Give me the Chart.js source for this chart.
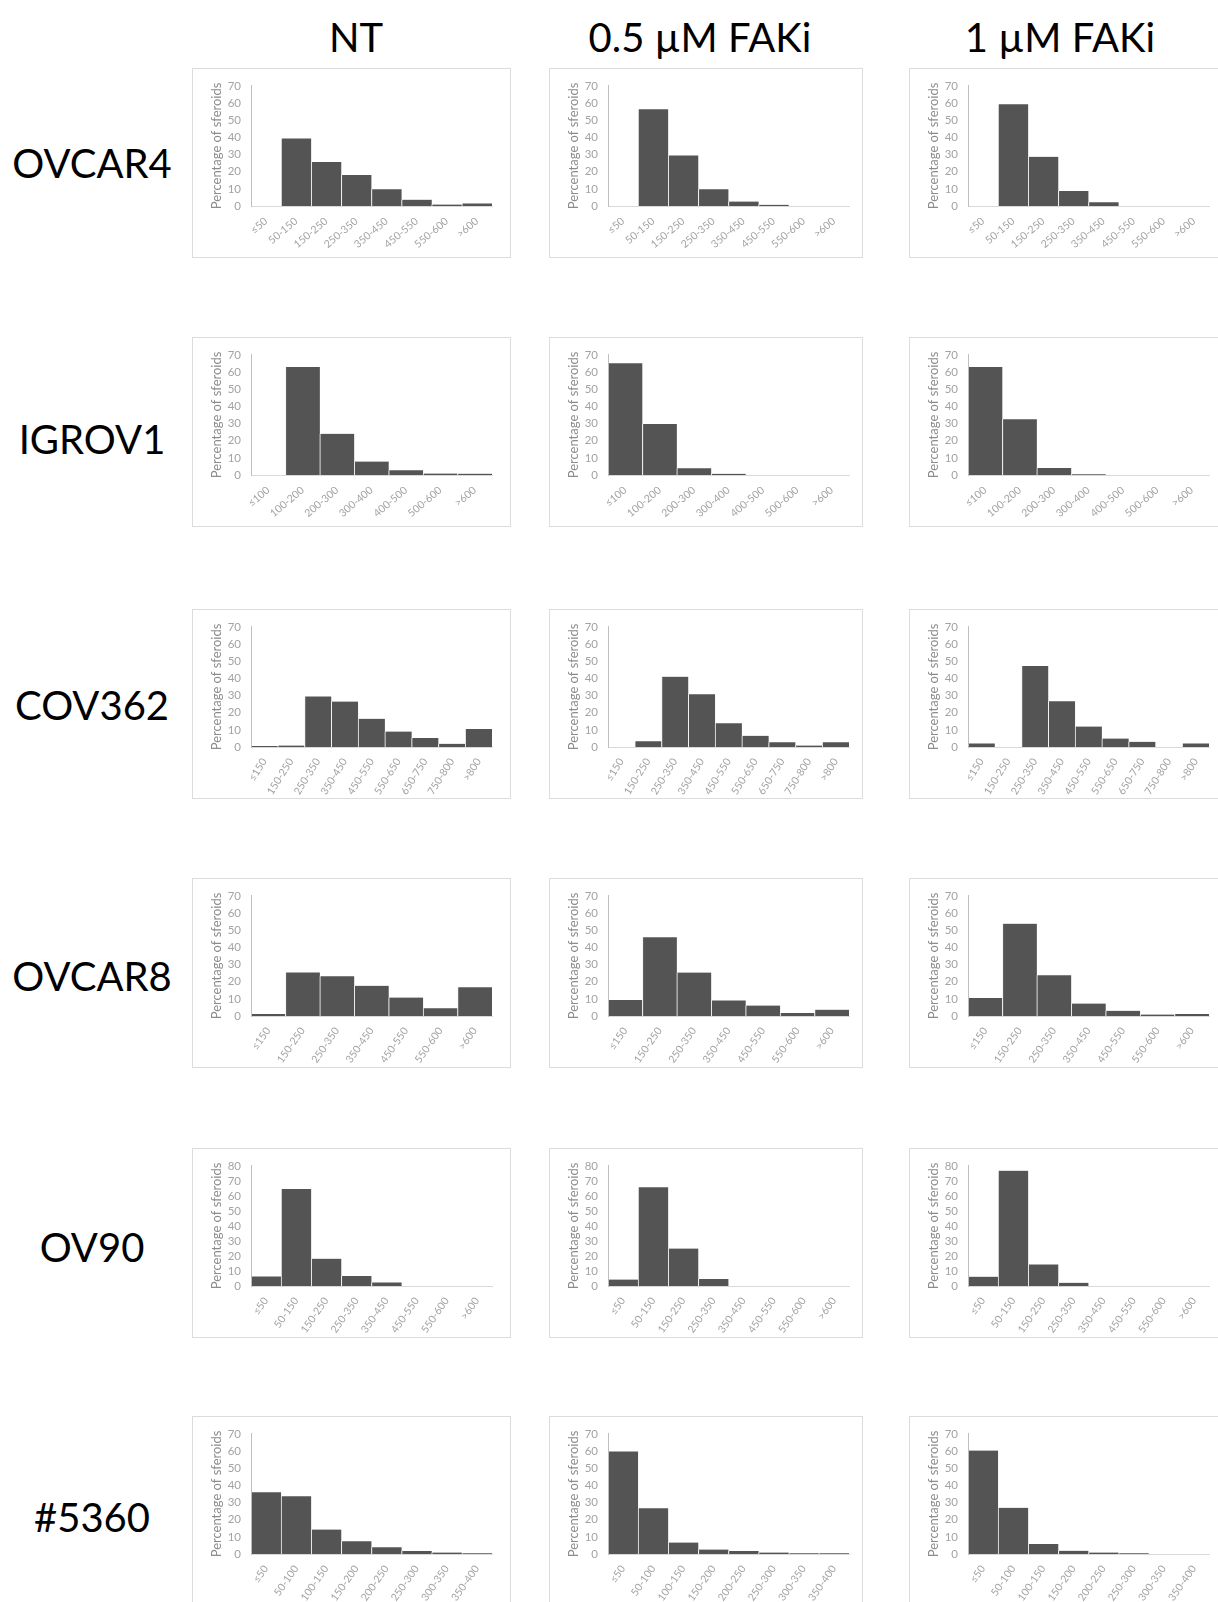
<!DOCTYPE html>
<html><head><meta charset="utf-8">
<script src="https://cdn.jsdelivr.net/npm/chart.js@4.4.1/dist/chart.umd.min.js"></script>
<style>
html,body{margin:0;padding:0;background:#fff;}
#page{position:relative;width:1218px;height:1602px;overflow:hidden;background:#fff;}
.lbl{position:absolute;font-family:Lato,'Open Sans',sans-serif;font-size:40px;color:#000;white-space:nowrap;transform:translate(-50%,-50%);line-height:1;}
.panel{position:absolute;border:1px solid #dcdcdc;box-sizing:border-box;background:#fff;}
.panel canvas{position:absolute;left:0;top:0;}
</style></head><body><div id="page"></div>
<script>
// ---- text ----
const columnHeaders = ['NT', '0.5 µM FAKi', '1 µM FAKi'];
const cellLines = ['OVCAR4', 'IGROV1', 'COV362', 'OVCAR8', 'OV90', '#5360'];
const yTitle = 'Percentage of sferoids';

// ---- category (size bin) labels ----
const binsOvcar4 = ['≤50','50-150','150-250','250-350','350-450','450-550','550-600','>600'];
const binsIgrov1 = ['≤100','100-200','200-300','300-400','400-500','500-600','>600'];
const binsCov362 = ['≤150','150-250','250-350','350-450','450-550','550-650','650-750','750-800','>800'];
const binsOvcar8 = ['≤150','150-250','250-350','350-450','450-550','550-600','>600'];
const binsOv90   = ['≤50','50-150','150-250','250-350','350-450','450-550','550-600','>600'];
const bins5360   = ['≤50','50-100','100-150','150-200','200-250','250-300','300-350','350-400'];

// ---- values (% of spheroids) ----
const ovcar4NT    = [0, 39.4, 25.6, 18.0, 9.7, 3.7, 0.9, 1.5];
const ovcar4F05   = [0, 56.4, 29.5, 9.7, 2.6, 0.7, 0, 0];
const ovcar4F1    = [0, 59.3, 28.7, 8.7, 2.2, 0, 0, 0];

const igrov1NT    = [0, 62.9, 24.0, 7.8, 2.8, 0.9, 0.8];
const igrov1F05   = [65.2, 29.7, 3.9, 0.7, 0, 0, 0];
const igrov1F1    = [63.0, 32.5, 4.1, 0.5, 0, 0, 0];

const cov362NT    = [0.6, 0.9, 29.5, 26.5, 16.4, 9.0, 5.2, 1.9, 10.5];
const cov362F05   = [0, 3.4, 41.0, 30.8, 13.8, 6.5, 2.8, 0.9, 2.8];
const cov362F1    = [2.1, 0, 47.2, 26.7, 11.9, 4.9, 3.0, 0, 2.1];

const ovcar8NT    = [1.1, 25.4, 23.2, 17.6, 10.8, 4.5, 16.7];
const ovcar8F05   = [9.3, 45.9, 25.3, 9.1, 6.1, 1.7, 3.7];
const ovcar8F1    = [10.5, 53.8, 23.7, 7.3, 3.0, 0.9, 1.1];

const ov90NT      = [6.4, 64.6, 18.2, 6.6, 2.4, 0, 0, 0];
const ov90F05     = [4.3, 65.8, 24.9, 4.7, 0, 0, 0, 0];
const ov90F1      = [6.2, 76.8, 14.4, 2.1, 0, 0, 0, 0];

const s5360NT     = [36.0, 33.6, 14.3, 7.4, 3.9, 1.7, 0.9, 0.5];
const s5360F05    = [59.8, 26.7, 6.7, 2.6, 1.7, 0.9, 0.5, 0.5];
const s5360F1     = [60.3, 26.9, 5.9, 1.9, 0.9, 0.5, 0, 0];

// y-axis maxima per row
const yMax = [70, 70, 70, 70, 80, 70];

// ---- grid assembly ----
const rows = [
  {bins: binsOvcar4, series: [ovcar4NT, ovcar4F05, ovcar4F1], rot: 40},
  {bins: binsIgrov1, series: [igrov1NT, igrov1F05, igrov1F1], rot: 40},
  {bins: binsCov362, series: [cov362NT, cov362F05, cov362F1], rot: 58},
  {bins: binsOvcar8, series: [ovcar8NT, ovcar8F05, ovcar8F1], rot: 55},
  {bins: binsOv90,   series: [ov90NT, ov90F05, ov90F1], rot: 55},
  {bins: bins5360,   series: [s5360NT, s5360F05, s5360F1], rot: 55}
];

const page = document.getElementById('page');
const colLeft = [192, 549, 909];
const colWidth = [319, 314, 312];
const rowTop = [68, 337, 609, 878, 1148, 1416];
const panelH = 190;
const headerX = [356, 700, 1060];
const rowLabelY = [163, 439, 705, 976, 1247, 1517];

columnHeaders.forEach((t, i) => {
  const d = document.createElement('div');
  d.className = 'lbl'; d.textContent = t;
  d.style.left = headerX[i] + 'px'; d.style.top = '37px';
  page.appendChild(d);
});
cellLines.forEach((t, i) => {
  const d = document.createElement('div');
  d.className = 'lbl'; d.textContent = t;
  d.style.left = '92px'; d.style.top = rowLabelY[i] + 'px';
  page.appendChild(d);
});

const FONT = 'Lato, "Open Sans", sans-serif';

rows.forEach((row, r) => {
  row.series.forEach((vals, c) => {
    const div = document.createElement('div');
    div.className = 'panel';
    div.style.left = colLeft[c] + 'px';
    div.style.top = rowTop[r] + 'px';
    div.style.width = colWidth[c] + 'px';
    div.style.height = panelH + 'px';
    const cw = colWidth[c] - 2, ch = panelH - 2;
    const cv = document.createElement('canvas');
    cv.width = cw; cv.height = ch;
    cv.style.width = cw + 'px'; cv.style.height = ch + 'px';
    div.appendChild(cv);
    page.appendChild(div);
    new Chart(cv, {
      type: 'bar',
      data: {
        labels: row.bins,
        datasets: [{
          data: vals,
          backgroundColor: '#545454',
          borderColor: '#f2f2f2',
          borderWidth: {left: 1, right: 0, top: 0, bottom: 0},
          borderSkipped: false,
          barPercentage: 1,
          categoryPercentage: 1
        }]
      },
      options: {
        responsive: false,
        animation: false,
        devicePixelRatio: 1,
        plugins: {legend: {display: false}, tooltip: {enabled: false}},
        layout: {padding: {left: 0, right: cw - 299, top: 12, bottom: 0}},
        scales: {
          x: {
            grid: {display: false, drawTicks: false},
            border: {color: '#d9d9d9', width: 1},
            ticks: {color: '#a3a3a3', font: {family: FONT, size: 10.5}, minRotation: row.rot, maxRotation: row.rot, padding: 9, autoSkip: false},
            afterFit: s => { s.height = ch - 137; }
          },
          y: {
            min: 0, max: yMax[r],
            grid: {display: false, drawTicks: false},
            border: {color: '#bfbfbf', width: 1},
            ticks: {stepSize: 10, autoSkip: false, color: '#a3a3a3', font: {family: FONT, size: 11.5}, padding: 10},
            title: {display: true, text: yTitle, color: '#8c8c8c', font: {family: FONT, size: 13}, padding: {top: 16, bottom: 0}},
            afterFit: s => { s.width = 58; }
          }
        }
      }
    });
  });
});
</script>
</body></html>
